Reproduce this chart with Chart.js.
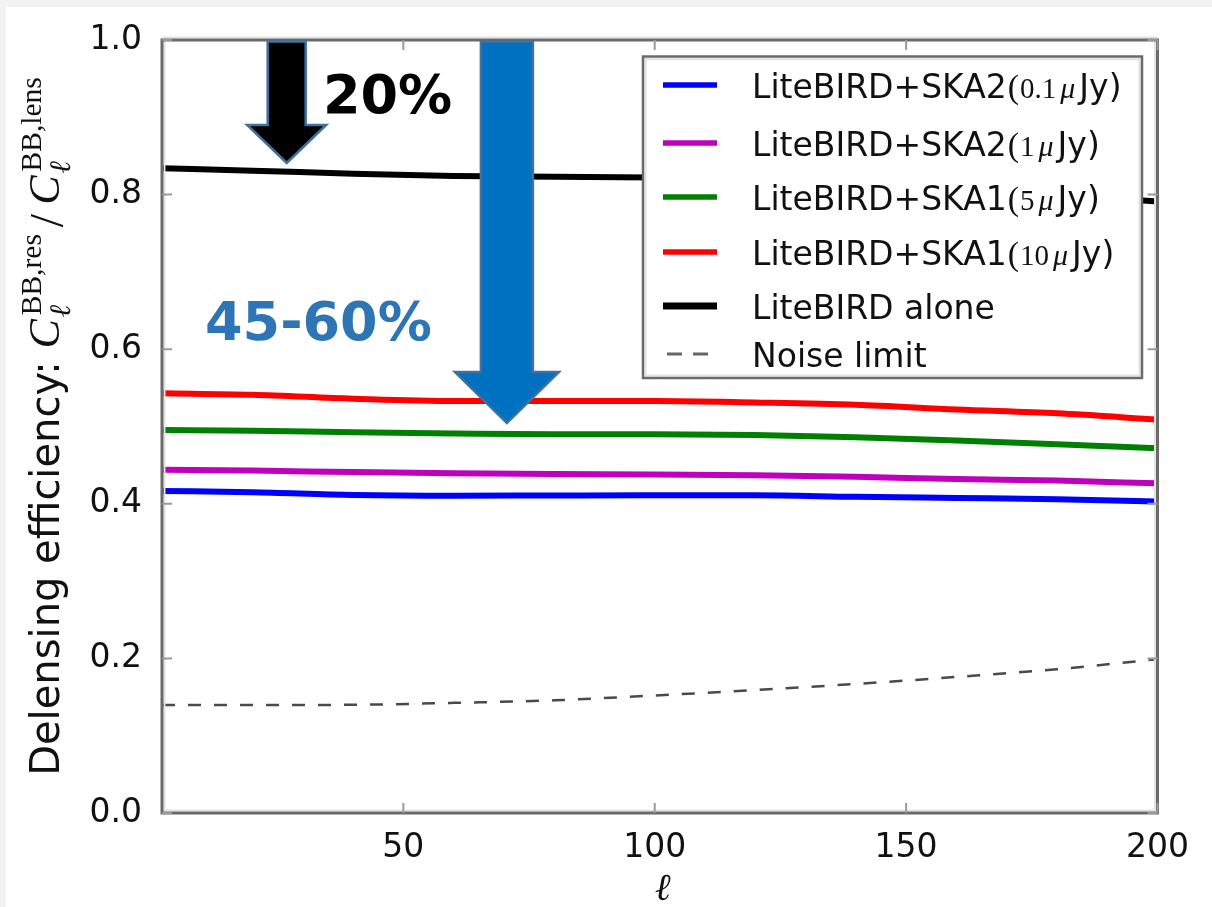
<!DOCTYPE html>
<html><head><meta charset="utf-8">
<script src="https://cdn.jsdelivr.net/npm/chart.js@4.4.0/dist/chart.umd.min.js"></script>
<style>
html,body{margin:0;padding:0;background:#f2f2f2;width:1212px;height:907px;overflow:hidden}
#wrap{position:absolute;left:6px;top:7px;width:1206px;height:900px;background:#fff}
canvas{display:block}
</style></head><body>
<div id="wrap"><canvas id="c" width="1206" height="900"></canvas></div>
<script>
// ---- data ----
const ell        = [2, 20, 40, 60, 80, 100, 120, 140, 160, 180, 200];
const ska2_01uJy = [0.4166, 0.415, 0.4115, 0.4105, 0.4108, 0.411, 0.411, 0.409, 0.4075, 0.406, 0.403];
const ska2_1uJy  = [0.444, 0.443, 0.441, 0.4395, 0.4385, 0.438, 0.437, 0.435, 0.432, 0.430, 0.4265];
const ska1_5uJy  = [0.4955, 0.4946, 0.4925, 0.491, 0.490, 0.490, 0.489, 0.486, 0.482, 0.477, 0.472];
const ska1_10uJy = [0.543, 0.541, 0.536, 0.533, 0.533, 0.533, 0.531, 0.528, 0.522, 0.517, 0.509];
const liteAlone  = [0.834, 0.831, 0.827, 0.824, 0.823, 0.822, 0.819, 0.814, 0.808, 0.800, 0.791];
const noiseLimit = [0.1397, 0.1397, 0.140, 0.1425, 0.1458, 0.152, 0.159, 0.167, 0.176, 0.186, 0.199];
const xTicks = [50, 100, 150, 200];
const yTicks = [0.0, 0.2, 0.4, 0.6, 0.8, 1.0];
const legendLabels = ['LiteBIRD+SKA2(0.1μJy)', 'LiteBIRD+SKA2(1μJy)', 'LiteBIRD+SKA1(5μJy)',
                      'LiteBIRD+SKA1(10μJy)', 'LiteBIRD alone', 'Noise limit'];
const yTitleText = 'Delensing efficiency: ';
const xTitleText = 'ℓ';
// annotation arrows: [ell of centre, tip value], labels: [text, ell, value]
const arrowBlack = [26.8, 0.841];
const arrowBlue  = [70.6, 0.5045];
const note20 = ['20%', 34.0, 0.9056];
const note4560 = ['45-60%', 10.55, 0.612];

const SANS = '"DejaVu Sans", sans-serif';
const SERIF = '"Liberation Serif", "DejaVu Serif", serif';

const pts = arr => ell.map((l, i) => ({x: l, y: arr[i]}));
const seriesDefs = [
  {data: ska2_01uJy, color: '#0000ff', w: 6},
  {data: ska2_1uJy,  color: '#bf00bf', w: 6},
  {data: ska1_5uJy,  color: '#008000', w: 6},
  {data: ska1_10uJy, color: '#ff0000', w: 6},
  {data: liteAlone,  color: '#000000', w: 6},
  {data: noiseLimit, color: '#4a4a4a', w: 2.5, dash: [13, 13]}
];

function labelRuns(label) {
  const i = label.indexOf('('), m = label.indexOf('μ');
  if (i < 0 || m < 0) return [{t: label, f: `33px ${SANS}`}];
  return [
    {t: label.slice(0, i), f: `33px ${SANS}`},
    {t: '(', f: `34px ${SERIF}`, dx: 1},
    {t: label.slice(i + 1, m), f: `29px ${SERIF}`, dx: 1},
    {t: 'μ', f: `italic 30px ${SERIF}`, dx: 4},
    {t: label.slice(m + 1), f: `33px ${SANS}`, dx: 4}
  ];
}
function drawRuns(ctx, runs, x, y) {
  for (const r of runs) {
    x += (r.dx || 0);
    ctx.font = r.f;
    ctx.fillText(r.t, x, y + (r.dy || 0));
    x += ctx.measureText(r.t).width;
  }
  return x;
}
function runsWidth(ctx, runs) {
  let w = 0;
  for (const r of runs) { ctx.font = r.f; w += (r.dx || 0) + ctx.measureText(r.t).width; }
  return w;
}
function drawArrow(ctx, cx, top, tip, sw, hw, hl, fill) {
  const hb = tip - hl;
  ctx.beginPath();
  ctx.moveTo(cx - sw, top); ctx.lineTo(cx - sw, hb); ctx.lineTo(cx - hw, hb);
  ctx.lineTo(cx, tip); ctx.lineTo(cx + hw, hb); ctx.lineTo(cx + sw, hb);
  ctx.lineTo(cx + sw, top); ctx.closePath();
  ctx.fillStyle = fill; ctx.fill();
  ctx.lineWidth = 2.5; ctx.strokeStyle = '#41719c'; ctx.lineJoin = 'miter'; ctx.stroke();
}

const deco = {
  id: 'deco',
  afterDatasetsDraw(chart) {
    const {ctx, chartArea: a, scales: {x, y}} = chart;
    ctx.save();
    // legend box
    const W = 499, H = 321.5, L = a.right - 15.5 - W, T = a.top + 16.5;
    ctx.fillStyle = '#fff'; ctx.fillRect(L, T, W, H);
    ctx.strokeStyle = '#e2e2e2'; ctx.lineWidth = 2; ctx.strokeRect(L + 2.5, T + 2.5, W - 5, H - 5);
    ctx.strokeStyle = '#6a6a6a'; ctx.lineWidth = 2.5; ctx.strokeRect(L, T, W, H);
    const rowOff = [28.5, 86.5, 140.5, 195.5, 249.5, 297.5];
    legendLabels.forEach((lab, i) => {
      const s = seriesDefs[i], ly = T + rowOff[i];
      ctx.beginPath(); ctx.setLineDash(s.dash ? [15, 11] : []);
      ctx.lineDashOffset = s.dash ? -4 : 0;
      ctx.moveTo(L + 20, ly); ctx.lineTo(L + 74, ly);
      ctx.strokeStyle = s.dash ? '#666' : s.color; ctx.lineWidth = s.dash ? 3 : (i === 4 ? 7 : 5.5);
      ctx.lineCap = 'butt'; ctx.stroke(); ctx.setLineDash([]);
      ctx.fillStyle = '#111'; ctx.textBaseline = 'alphabetic'; ctx.textAlign = 'left';
      drawRuns(ctx, labelRuns(lab), L + 109, ly + 13);
    });
    // frame
    ctx.strokeStyle = '#e3e3e3'; ctx.lineWidth = 2;
    ctx.beginPath();
    ctx.moveTo(a.left + 2.5, a.top); ctx.lineTo(a.left + 2.5, a.bottom - 2.5);
    ctx.lineTo(a.right - 2.5, a.bottom - 2.5); ctx.lineTo(a.right - 2.5, a.top);
    ctx.moveTo(a.left, a.top - 2.5); ctx.lineTo(a.right, a.top - 2.5);
    ctx.stroke();
    ctx.strokeStyle = '#6a6a6a'; ctx.lineWidth = 3;
    ctx.strokeRect(a.left, a.top, a.right - a.left, a.bottom - a.top);
    // inward ticks on all sides
    ctx.strokeStyle = '#9a9a9a'; ctx.lineWidth = 2;
    ctx.beginPath();
    xTicks.forEach(v => { const px = x.getPixelForValue(v);
      ctx.moveTo(px, a.bottom); ctx.lineTo(px, a.bottom - 10);
      ctx.moveTo(px, a.top); ctx.lineTo(px, a.top + 10); });
    yTicks.forEach(v => { const py = y.getPixelForValue(v);
      ctx.moveTo(a.left, py); ctx.lineTo(a.left + 10, py);
      ctx.moveTo(a.right, py); ctx.lineTo(a.right - 10, py); });
    ctx.stroke();
    // arrows
    drawArrow(ctx, x.getPixelForValue(arrowBlack[0]), a.top + 1.5, y.getPixelForValue(arrowBlack[1]), 19, 39.5, 38, '#000000');
    drawArrow(ctx, x.getPixelForValue(arrowBlue[0]), a.top + 1.5, y.getPixelForValue(arrowBlue[1]), 26, 52, 51, '#0070c0');
    // notes
    ctx.textAlign = 'left'; ctx.textBaseline = 'alphabetic';
    ctx.font = `bold 54px ${SANS}`;
    ctx.fillStyle = '#000'; ctx.fillText(note20[0], x.getPixelForValue(note20[1]), y.getPixelForValue(note20[2]));
    ctx.fillStyle = '#2e75b6'; ctx.fillText(note4560[0], x.getPixelForValue(note4560[1]), y.getPixelForValue(note4560[2]));
    ctx.restore();
  },
  afterDraw(chart) {
    const {ctx, chartArea: a} = chart;
    ctx.save();
    ctx.fillStyle = '#111'; ctx.textAlign = 'left'; ctx.textBaseline = 'alphabetic';
    // x title
    ctx.font = `italic 38px ${SERIF}`;
    const xw = ctx.measureText(xTitleText).width;
    ctx.fillText(xTitleText, (a.left + a.right) / 2 - xw / 2 + 3, 893);
    // y title (rotated)
    const sup = 29.5, supDy = -18, subDy = 11;
    const mainF = `40px ${SANS}`, cF = `italic 44px ${SERIF}`, sF = `${sup}px ${SERIF}`, lF = `italic ${sup}px ${SERIF}`;
    const groups = [
      {runs: [{t: yTitleText, f: mainF}]},
      {runs: [{t: 'C', f: cF}]},
      {sup: 'BB,res', sub: 'ℓ', dx: 4},
      {runs: [{t: '/', f: `48px ${SERIF}`, dx: 7, dy: 4}]},
      {runs: [{t: 'C', f: cF, dx: 9}]},
      {sup: 'BB,lens', sub: 'ℓ', dx: 4}
    ];
    const gw = g => {
      if (g.runs) return runsWidth(ctx, g.runs);
      ctx.font = sF; const a1 = ctx.measureText(g.sup).width;
      ctx.font = lF; const a2 = ctx.measureText(g.sub).width;
      return g.dx + Math.max(a1, a2);
    };
    const total = groups.reduce((s, g) => s + gw(g), 0);
    ctx.translate(53, (a.top + a.bottom) / 2);
    ctx.rotate(-Math.PI / 2);
    let cx = -total / 2;
    for (const g of groups) {
      if (g.runs) { cx = drawRuns(ctx, g.runs, cx, 0); }
      else {
        const w = gw(g);
        ctx.font = sF; ctx.fillText(g.sup, cx + g.dx, supDy);
        ctx.font = lF; ctx.fillText(g.sub, cx + g.dx - 2, subDy);
        cx += w;
      }
    }
    ctx.restore();
  }
};

new Chart(document.getElementById('c'), {
  type: 'line',
  data: {
    datasets: seriesDefs.map((s, i) => ({
      label: legendLabels[i], data: pts(s.data), borderColor: s.color, borderWidth: s.w,
      borderDash: s.dash || [], fill: false, pointRadius: 0, cubicInterpolationMode: 'monotone',
      borderCapStyle: 'butt'
    }))
  },
  options: {
    responsive: false, animation: false, devicePixelRatio: 1,
    layout: {padding: {top: 33, right: 54.5, left: 0, bottom: 0}},
    plugins: {legend: {display: false}, tooltip: {enabled: false}},
    scales: {
      x: {
        type: 'linear', min: 2, max: 200,
        afterBuildTicks: s => { s.ticks = xTicks.map(v => ({value: v})); },
        afterFit: s => { s.height = 94; s.paddingLeft = 0; s.paddingRight = 0; },
        grid: {display: false, drawTicks: false}, border: {display: false},
        ticks: {font: {family: 'DejaVu Sans', size: 33}, color: '#111', padding: 16,
                maxRotation: 0, autoSkip: false, callback: v => String(v)}
      },
      y: {
        type: 'linear', min: 0, max: 1,
        afterBuildTicks: s => { s.ticks = yTicks.map(v => ({value: v})); },
        afterFit: s => { s.width = 156; s.paddingTop = 0; s.paddingBottom = 0; },
        grid: {display: false, drawTicks: false}, border: {display: false},
        ticks: {font: {family: 'DejaVu Sans', size: 33}, color: '#111', padding: 20,
                callback: v => Number(v).toFixed(1)}
      }
    }
  },
  plugins: [deco]
});
</script>
</body></html>
